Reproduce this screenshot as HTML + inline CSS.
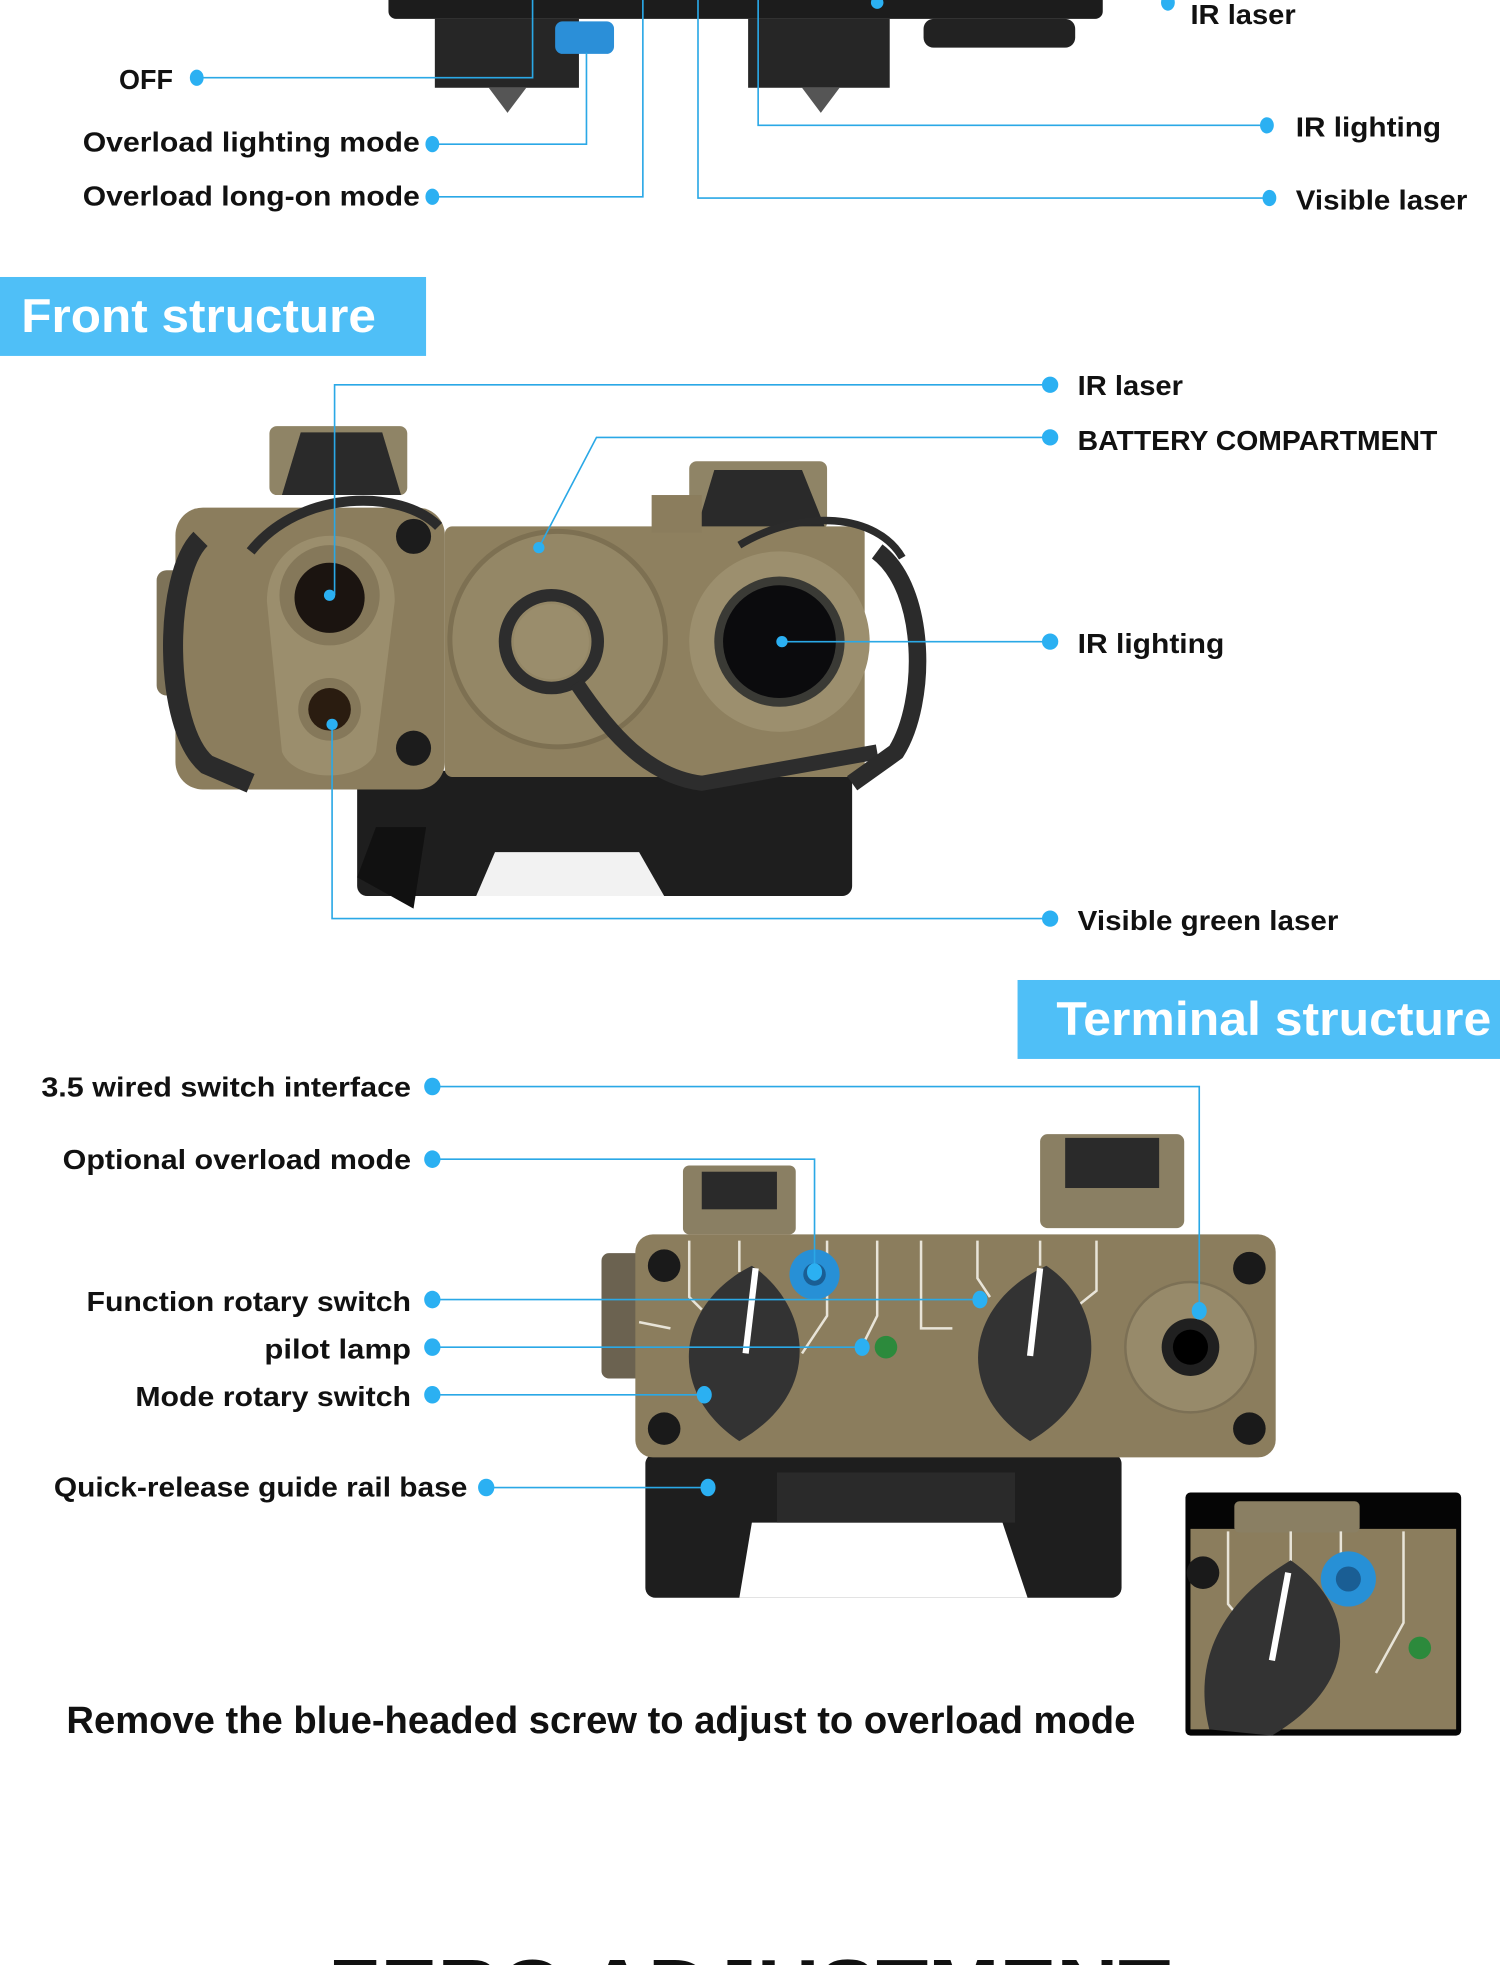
<!DOCTYPE html>
<html><head><meta charset="utf-8"><style>
html,body{margin:0;padding:0;background:#fff}
svg{display:block}
text{font-family:"Liberation Sans",sans-serif;font-weight:bold;fill:#111}
</style></head><body>
<svg width="1500" height="1965" viewBox="0 0 1197 1568" xmlns="http://www.w3.org/2000/svg">
<rect width="1197" height="1568" fill="#fff"/>
<!-- TOP DEVICE -->
<rect x="310" y="-10" width="570" height="25" rx="6" fill="#1c1c1c"/>
<rect x="347" y="15" width="115" height="55" fill="#262626"/>
<rect x="597" y="15" width="113" height="55" fill="#262626"/>
<rect x="737" y="15" width="121" height="23" rx="8" fill="#222"/>
<rect x="443" y="17" width="47" height="26" rx="6" fill="#2b8fd8"/>
<path d="M390 70 L420 70 L405 90 Z" fill="#555"/>
<path d="M640 70 L670 70 L655 90 Z" fill="#555"/>
<g stroke="#2aa8e6" stroke-width="1.3" fill="none">
<path d="M157 62 H425 V0"/>
<path d="M345 115 H468 V42"/>
<path d="M345 157 H513 V0"/>
<path d="M1011 100 H605 V0"/>
<path d="M1013 158 H557 V0"/>
</g>
<g fill="#2bb0f2">
<ellipse cx="157" cy="62" rx="5.5" ry="6.5"/><ellipse cx="345" cy="115" rx="5.5" ry="6.5"/><ellipse cx="345" cy="157" rx="5.5" ry="6.5"/>
<ellipse cx="1011" cy="100" rx="5.5" ry="6.5"/><ellipse cx="1013" cy="158" rx="5.5" ry="6.5"/><ellipse cx="932" cy="2" rx="5.5" ry="6.5"/><circle cx="700" cy="2" r="5"/>
</g>
<text x="95" y="71" font-size="22" textLength="43" lengthAdjust="spacingAndGlyphs">OFF</text>
<text x="66" y="121" font-size="22" textLength="269" lengthAdjust="spacingAndGlyphs">Overload lighting mode</text>
<text x="66" y="164" font-size="22" textLength="269" lengthAdjust="spacingAndGlyphs">Overload long-on mode</text>
<text x="950" y="19" font-size="22" textLength="84" lengthAdjust="spacingAndGlyphs">IR laser</text>
<text x="1034" y="109" font-size="22" textLength="116" lengthAdjust="spacingAndGlyphs">IR lighting</text>
<text x="1034" y="167" font-size="22" textLength="137" lengthAdjust="spacingAndGlyphs">Visible laser</text>

<!-- FRONT BANNER -->
<rect x="0" y="221" width="340" height="63" fill="#4fbff7"/>
<text x="17" y="265" font-size="38" style="fill:#fff" textLength="283" lengthAdjust="spacingAndGlyphs">Front structure</text>

<!-- FRONT DEVICE -->
<g>
<rect x="285" y="615" width="395" height="100" rx="8" fill="#1e1e1e"/>
<path d="M380 715 L395 680 L510 680 L530 715 Z" fill="#f2f2f2"/>
<path d="M285 700 L300 660 L340 660 L330 725 Z" fill="#111"/>
<rect x="215" y="340" width="110" height="55" rx="6" fill="#8f8466"/>
<path d="M225 395 L240 345 L305 345 L320 395 Z" fill="#2a2a2a"/>
<rect x="550" y="368" width="110" height="55" rx="6" fill="#8f8466"/>
<path d="M555 425 L570 375 L640 375 L660 425 Z" fill="#2a2a2a"/>
<rect x="125" y="455" width="40" height="100" rx="8" fill="#7d7258"/>
<rect x="140" y="405" width="215" height="225" rx="22" fill="#8b7d5d"/>
<rect x="355" y="420" width="335" height="200" rx="6" fill="#8e805f"/>
<rect x="520" y="395" width="40" height="30" fill="#8b7d5d"/>
<circle cx="445" cy="510" r="86" fill="#948766" stroke="#7d7052" stroke-width="4"/>
<circle cx="440" cy="512" r="37" fill="none" stroke="#2d2d2d" stroke-width="10"/>
<circle cx="440" cy="512" r="30" fill="#9a8d6c"/>
<path d="M460 545 C490 590 520 620 560 625 L700 600" fill="none" stroke="#2d2d2d" stroke-width="12"/>
<path d="M213 480 C213 410 315 410 315 480 L300 600 C290 625 235 625 225 600 Z" fill="#9b8e6d"/>
<circle cx="263" cy="475" r="40" fill="#85785a"/>
<circle cx="263" cy="477" r="28" fill="#1b1410"/>
<circle cx="263" cy="566" r="25" fill="#85785a"/>
<circle cx="263" cy="566" r="17" fill="#2a1c10"/>
<circle cx="330" cy="428" r="14" fill="#1c1c1c"/><circle cx="330" cy="597" r="14" fill="#1c1c1c"/>
<circle cx="622" cy="512" r="72" fill="#9c8f6e"/>
<circle cx="622" cy="512" r="52" fill="#3a3a35"/>
<circle cx="622" cy="512" r="45" fill="#0b0b0d"/>
<path d="M160 430 C130 460 130 580 165 610 L200 625" fill="none" stroke="#2b2b2b" stroke-width="16"/>
<path d="M200 440 C240 390 320 390 350 420" fill="none" stroke="#2b2b2b" stroke-width="8"/>
<path d="M700 440 C740 470 740 560 715 600 L680 625" fill="none" stroke="#2b2b2b" stroke-width="14"/>
<path d="M590 435 C640 405 700 410 720 445" fill="none" stroke="#2b2b2b" stroke-width="6"/>
</g>
<g stroke="#2aa8e6" stroke-width="1.3" fill="none">
<path d="M838 307 H267 V475"/>
<path d="M838 349 H476 L430 437"/>
<path d="M838 512 H624"/>
<path d="M838 733 H265 V578"/>
</g>
<g fill="#2bb0f2">
<ellipse cx="838" cy="307" rx="6.5" ry="6.5"/><ellipse cx="838" cy="349" rx="6.5" ry="6.5"/><ellipse cx="838" cy="512" rx="6.5" ry="6.5"/><ellipse cx="838" cy="733" rx="6.5" ry="6.5"/>
<circle cx="263" cy="475" r="4.5"/><circle cx="430" cy="437" r="4.5"/><circle cx="624" cy="512" r="4.5"/><circle cx="265" cy="578" r="4.5"/>
</g>
<text x="860" y="315" font-size="22" textLength="84" lengthAdjust="spacingAndGlyphs">IR laser</text>
<text x="860" y="359" font-size="22" textLength="287" lengthAdjust="spacingAndGlyphs">BATTERY COMPARTMENT</text>
<text x="860" y="521" font-size="22" textLength="117" lengthAdjust="spacingAndGlyphs">IR lighting</text>
<text x="860" y="742" font-size="22" textLength="208" lengthAdjust="spacingAndGlyphs">Visible green laser</text>

<!-- TERMINAL BANNER -->
<rect x="812" y="782" width="385" height="63" fill="#4fbff7"/>
<text x="843" y="826" font-size="38" style="fill:#fff" textLength="347" lengthAdjust="spacingAndGlyphs">Terminal structure</text>

<!-- TERMINAL DEVICE -->
<g>
<rect x="515" y="1160" width="380" height="115" rx="8" fill="#1e1e1e"/>
<path d="M590 1275 L600 1215 L800 1215 L820 1275 Z" fill="#fff"/>
<rect x="620" y="1175" width="190" height="40" fill="#2a2a2a"/>
<rect x="545" y="930" width="90" height="55" rx="5" fill="#8a7f63"/>
<rect x="560" y="935" width="60" height="30" fill="#2a2a2a"/>
<rect x="830" y="905" width="115" height="75" rx="6" fill="#8a7f63"/>
<rect x="850" y="908" width="75" height="40" fill="#2a2a2a"/>
<rect x="480" y="1000" width="35" height="100" rx="6" fill="#6b6250"/>
<rect x="507" y="985" width="511" height="178" rx="14" fill="#8b7d5d"/>
<g stroke="#e8e4d8" stroke-width="2" fill="none">
<path d="M550 990 V1035 L560 1045"/><path d="M590 990 V1015"/><path d="M660 990 V1050 L640 1080"/><path d="M735 990 V1060 L760 1060"/><path d="M780 990 V1020 L790 1035"/><path d="M830 990 V1010"/><path d="M875 990 V1030 L850 1050"/><path d="M700 990 V1050 L685 1080"/><path d="M510 1055 L535 1060"/>
</g>
<path d="M600 1010 C645 1040 660 1110 590 1150 C530 1110 540 1040 600 1010 Z" fill="#333"/>
<path d="M603 1012 L595 1080" stroke="#fff" stroke-width="5"/>
<path d="M835 1010 C880 1040 890 1110 822 1150 C760 1110 770 1040 835 1010 Z" fill="#333"/>
<path d="M830 1012 L822 1082" stroke="#fff" stroke-width="5"/>
<circle cx="650" cy="1017" r="20" fill="#2790d6"/><circle cx="650" cy="1017" r="9" fill="#1a5e94"/>
<circle cx="707" cy="1075" r="9" fill="#2c8a3c"/>
<circle cx="950" cy="1075" r="52" fill="#978a6a" stroke="#7c7055" stroke-width="2"/>
<circle cx="950" cy="1075" r="23" fill="#202020"/><circle cx="950" cy="1075" r="14" fill="#000"/>
<circle cx="530" cy="1010" r="13" fill="#1a1a1a"/><circle cx="530" cy="1140" r="13" fill="#1a1a1a"/>
<circle cx="997" cy="1012" r="13" fill="#1a1a1a"/><circle cx="997" cy="1140" r="13" fill="#1a1a1a"/>
</g>
<g stroke="#2aa8e6" stroke-width="1.3" fill="none">
<path d="M345 867 H957 V1046"/>
<path d="M345 925 H650 V1015"/>
<path d="M345 1037 H782"/>
<path d="M345 1075 H688"/>
<path d="M345 1113 H562"/>
<path d="M388 1187 H565"/>
</g>
<g fill="#2bb0f2">
<ellipse cx="345" cy="867" rx="6.5" ry="7"/><ellipse cx="345" cy="925" rx="6.5" ry="7"/><ellipse cx="345" cy="1037" rx="6.5" ry="7"/><ellipse cx="345" cy="1075" rx="6.5" ry="7"/><ellipse cx="345" cy="1113" rx="6.5" ry="7"/><ellipse cx="388" cy="1187" rx="6.5" ry="7"/>
<ellipse cx="957" cy="1046" rx="6" ry="7"/><ellipse cx="650" cy="1015" rx="6" ry="7"/><ellipse cx="782" cy="1037" rx="6" ry="7"/><ellipse cx="688" cy="1075" rx="6" ry="7"/><ellipse cx="562" cy="1113" rx="6" ry="7"/><ellipse cx="565" cy="1187" rx="6" ry="7"/>
</g>
<text x="33" y="875" font-size="22" textLength="295" lengthAdjust="spacingAndGlyphs">3.5 wired switch interface</text>
<text x="50" y="933" font-size="22" textLength="278" lengthAdjust="spacingAndGlyphs">Optional overload mode</text>
<text x="69" y="1046" font-size="22" textLength="259" lengthAdjust="spacingAndGlyphs">Function rotary switch</text>
<text x="211" y="1084" font-size="22" textLength="117" lengthAdjust="spacingAndGlyphs">pilot lamp</text>
<text x="108" y="1122" font-size="22" textLength="220" lengthAdjust="spacingAndGlyphs">Mode rotary switch</text>
<text x="43" y="1194" font-size="22" textLength="330" lengthAdjust="spacingAndGlyphs">Quick-release guide rail base</text>

<!-- INSET -->
<rect x="946" y="1191" width="220" height="194" rx="4" fill="#050505"/>
<rect x="950" y="1220" width="212" height="160" fill="#8b7d5d"/>
<rect x="985" y="1198" width="100" height="25" rx="4" fill="#8a7f63"/>
<g stroke="#e8e4d8" stroke-width="2" fill="none"><path d="M980 1222 V1280 L990 1292"/><path d="M1030 1222 V1260"/><path d="M1070 1222 V1240"/><path d="M1120 1222 V1295 L1098 1335"/></g>
<circle cx="960" cy="1255" r="13" fill="#1a1a1a"/>
<path d="M1030 1245 C1080 1280 1090 1340 1015 1385 L965 1380 C950 1320 980 1275 1030 1245 Z" fill="#333"/>
<path d="M1028 1255 L1015 1325" stroke="#fff" stroke-width="5"/>
<circle cx="1076" cy="1260" r="22" fill="#2790d6"/><circle cx="1076" cy="1260" r="10" fill="#1a5e94"/>
<circle cx="1133" cy="1315" r="9" fill="#2c8a3c"/>

<text x="53" y="1383" font-size="30" textLength="853" lengthAdjust="spacingAndGlyphs">Remove the blue-headed screw to adjust to overload mode</text>
<text x="262" y="1608" font-size="64" textLength="672" lengthAdjust="spacingAndGlyphs">ZERO ADJUSTMENT</text>
</svg>
</body></html>
